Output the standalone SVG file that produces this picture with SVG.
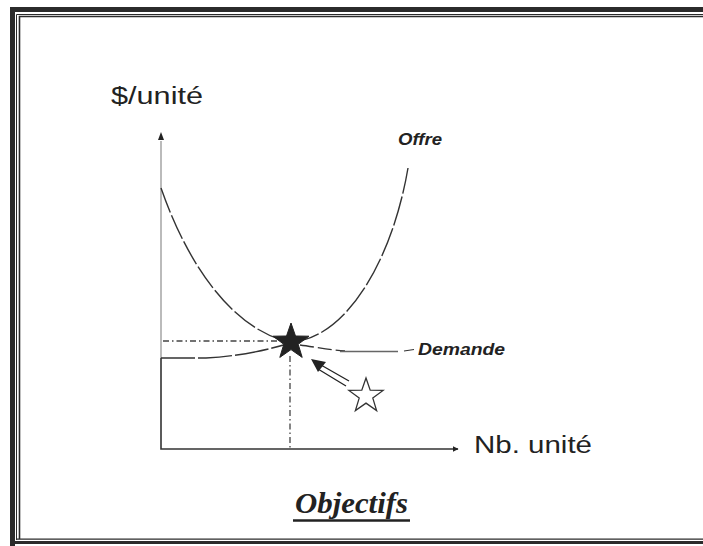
<svg xmlns="http://www.w3.org/2000/svg" width="703" height="546" viewBox="0 0 703 546">
<style>
.frame{fill:none;stroke:#2b2b2b}
.axis{fill:none;stroke:#333;stroke-width:1.6}
.curve{fill:none;stroke:#333;stroke-width:1.4}
.guide{fill:none;stroke:#444;stroke-width:1.3;stroke-dasharray:6 3 1.5 3}
.lbl{font-family:"Liberation Sans",Arial,sans-serif;fill:#222}
</style>
<defs>
<marker id="ah" viewBox="0 0 10 10" refX="9" refY="5" markerWidth="6" markerHeight="6" orient="auto" markerUnits="userSpaceOnUse">
<path d="M0,0 L10,5 L0,10 z" fill="#222"/>
</marker>
</defs>
<rect width="703" height="546" fill="#fff"/>
<g id="frame">
<path class="frame" d="M12.5,546 V9.5 H703" stroke-width="5"/>
<path class="frame" d="M10,542.5 H703" stroke-width="3"/>
<path class="frame" d="M16.5,540 V14.5 H703" stroke-width="1" stroke="#777"/>
<path class="frame" d="M19.5,539 V16.5 H703" stroke-width="1.6"/>
<path class="frame" d="M16,539.2 H703" stroke-width="1.2"/>
</g>
<g id="connectors">
<line x1="161" y1="358" x2="161" y2="141" stroke="#aaa" stroke-width="1.6"/>
<path d="M161,132 L158,140 L164,140 Z" fill="#222"/>
<path class="axis" d="M161,358 V449 H458" marker-end="url(#ah)"/>
<path class="guide" d="M163,341 H280"/>
<path class="guide" d="M290,356 V449"/>
<path class="curve" stroke-dasharray="26 3" d="M161,188 C195,285 245,333 290,342"/>
<path class="curve" stroke-dasharray="30 3" d="M290,342 C345,340 392,262 408,168"/>
<path class="curve" d="M161,358 H206 C240,356 268,350 290,343" stroke-dasharray="34 3"/>
<path class="curve" d="M300,345 C315,347 330,350 345,351" stroke-dasharray="14 4"/>
<path d="M340,351.5 H398" stroke="#666" stroke-width="1.6" fill="none"/>
<path d="M404,351 L414,349.5" stroke="#333" stroke-width="1.2" fill="none"/>
</g>
<g id="arrow">
<path d="M349,381 L321,365 M346,386 L318,369" stroke="#222" stroke-width="1.3" fill="none"/>
<path d="M311,359 L326,362 L318,372 Z" fill="#222"/>
</g>
<g id="star-equilibre">
<polygon points="291,323 295.5,336 309,336.2 298.2,344.3 302.2,357.4 291,349.6 279.8,357.4 283.8,344.3 273,336.2 286.5,336" fill="#222" stroke="#222" stroke-width="1"/>
</g>
<g id="star-objectif">
<polygon points="366,378 370.2,390.2 383.1,390.4 372.8,398.1 376.6,410.6 366,403.1 355.4,410.6 359.2,398.1 348.9,390.4 361.8,390.2" fill="#fff" stroke="#333" stroke-width="1.3"/>
</g>
<g id="labels">
<text class="lbl" x="111" y="104" font-size="23" textLength="92" lengthAdjust="spacingAndGlyphs">$/unité</text>
<text class="lbl" x="474" y="453" font-size="23" textLength="118" lengthAdjust="spacingAndGlyphs">Nb. unité</text>
<text class="lbl" x="398" y="145" font-size="16" font-style="italic" font-weight="bold" textLength="44" lengthAdjust="spacingAndGlyphs">Offre</text>
<text class="lbl" x="418" y="355" font-size="16" font-style="italic" font-weight="bold" textLength="87" lengthAdjust="spacingAndGlyphs">Demande</text>
<text x="295" y="513" font-family="'Liberation Serif','Times New Roman',serif" font-size="30" font-weight="bold" font-style="italic" fill="#222" textLength="113" lengthAdjust="spacingAndGlyphs">Objectifs</text>
<line x1="293" y1="520.5" x2="410" y2="520.5" stroke="#222" stroke-width="2.5"/>
</g>
</svg>
